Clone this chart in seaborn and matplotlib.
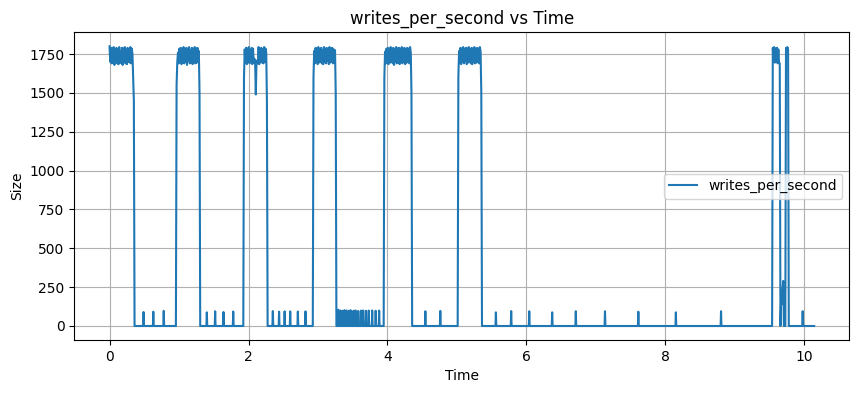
import matplotlib
matplotlib.use("Agg")
import matplotlib.pyplot as plt
import seaborn as sns
import numpy as np
import pandas as pd

# ---- data ----
STEP = 0.01  # sampling step of the recorded series (seconds of "Time")

burst1_start = 0.00
burst1 = [1800, 1700, 1790, 1690, 1785, 1695, 1795, 1680, 1775, 1700, 1790, 1690,
          1780, 1685, 1795, 1705, 1770, 1690, 1790, 1680, 1785, 1700, 1795, 1690,
          1775, 1685, 1790, 1700, 1780, 1695, 1795, 1690, 1785, 1750,
          1600, 1450, 0]

burst2_start = 0.955
burst2 = [0, 1550, 1700,
          1760, 1690, 1785, 1700, 1790, 1685, 1775, 1695, 1795, 1690, 1780, 1700,
          1790, 1680, 1785, 1705, 1795, 1690, 1775, 1695, 1790, 1685, 1780, 1700,
          1795, 1690, 1785, 1695, 1790, 1700, 1770,
          1500, 0]

burst3_start = 1.925
burst3 = [0, 1600,
          1780, 1695, 1790, 1685, 1785, 1700, 1795, 1690, 1775, 1700, 1790, 1685,
          1785, 1695, 1720, 1700, 1490, 1700, 1710, 1690, 1795, 1685, 1785, 1700,
          1790, 1695, 1780, 1690, 1795, 1700, 1785, 1760,
          1450, 0]

burst4_start = 2.925
burst4 = [0, 1600,
          1770, 1690, 1790, 1700, 1785, 1685, 1795, 1695, 1780, 1700, 1790, 1690,
          1775, 1685, 1795, 1700, 1785, 1690, 1790, 1705, 1780, 1685, 1795, 1695,
          1785, 1700, 1790, 1690, 1780, 1695, 1775,
          1500, 0]

burst5_start = 3.945
burst5 = [0, 1600,
          1765, 1690, 1785, 1700, 1790, 1685, 1780, 1695, 1795, 1700, 1785, 1690,
          1790, 1680, 1775, 1700, 1795, 1690, 1785, 1695, 1790, 1685, 1780, 1700,
          1795, 1690, 1785, 1705, 1790, 1685, 1775, 1695, 1790, 1700, 1785, 1690,
          1795, 1760,
          1500, 0]

burst6_start = 5.01
burst6 = [0, 1600,
          1770, 1695, 1790, 1685, 1785, 1700, 1795, 1690, 1780, 1705, 1790, 1685,
          1785, 1695, 1795, 1700, 1775, 1690, 1790, 1685, 1785, 1700, 1795, 1690,
          1780, 1695, 1790, 1700, 1785, 1690, 1795, 1765,
          1500, 0]

burst7_start = 9.535
burst7 = [0,
          1790, 1700, 1795, 1695, 1785, 1700, 1790, 1690, 1780, 1695,
          1690, 0, 170, 140, 240, 290, 0, 0, 0,
          1790, 1770, 1795, 1780, 0]

# small write spikes during idle periods
spike_times = [0.49, 0.63, 0.78,
               1.40, 1.52, 1.64, 1.78,
               2.35, 2.44, 2.52, 2.60, 2.71, 2.82,
               3.29, 3.32, 3.35, 3.38, 3.41, 3.45, 3.47, 3.51, 3.54, 3.58,
               3.62, 3.65, 3.69, 3.73, 3.78, 3.83, 3.88,
               4.545, 4.76,
               5.56, 5.78, 6.04, 6.37, 6.71, 7.13, 7.61, 8.15, 8.80,
               9.975]
spike_heights = [90, 92, 97,
                 88, 95, 90, 93,
                 96, 92, 94, 94, 93, 94,
                 105, 100, 98, 102, 100, 99, 101, 98, 100, 97,
                 99, 100, 98, 99, 100, 98, 99,
                 95, 97,
                 88, 96, 95, 88, 95, 95, 92, 88, 95,
                 95]
spike_half_width = 0.006

end_time = 10.14

# ---- assemble the series ----
bursts = [(burst1_start, burst1), (burst2_start, burst2), (burst3_start, burst3),
          (burst4_start, burst4), (burst5_start, burst5), (burst6_start, burst6),
          (burst7_start, burst7)]

points = []
for start, vals in bursts:
    for i, v in enumerate(vals):
        points.append((round(start + i * STEP, 4), v))
for t, h in zip(spike_times, spike_heights):
    points.append((round(t - spike_half_width, 4), 0))
    points.append((t, h))
    points.append((round(t + spike_half_width, 4), 0))
points.append((end_time, 0))
points.sort(key=lambda p: p[0])

df = pd.DataFrame(points, columns=["Time", "writes_per_second"])

# ---- plot ----
fig = plt.figure(figsize=(8.59, 3.93), dpi=100)
ax = fig.add_axes([0.0865, 0.1349, 0.9023, 0.7829])
sns.lineplot(data=df, x="Time", y="writes_per_second", ax=ax,
             estimator=None, sort=False, color="#1f77b4", linewidth=1.5,
             label="writes_per_second")
ax.set_title("writes_per_second vs Time")
ax.set_xlabel("Time")
ax.set_ylabel("Size")
ax.set_xticks([0, 2, 4, 6, 8, 10])
ax.set_yticks([0, 250, 500, 750, 1000, 1250, 1500, 1750])
ax.grid(True)
ax.legend(loc="center right")
fig.savefig("out.png", dpi=100)
